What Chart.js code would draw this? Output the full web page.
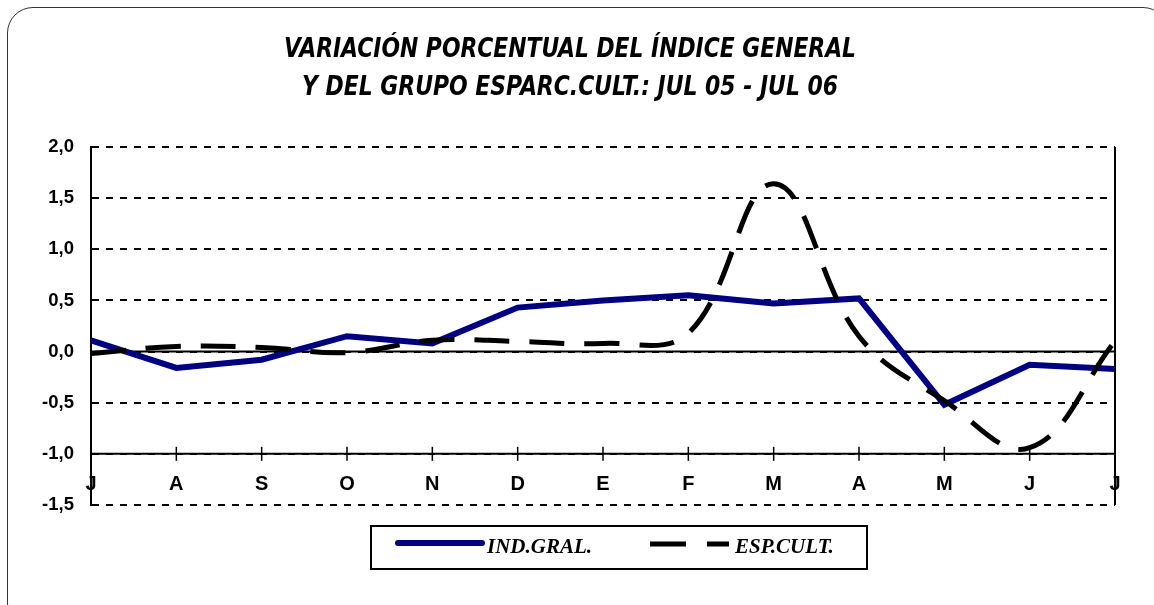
<!DOCTYPE html>
<html>
<head>
<meta charset="utf-8">
<script src="https://cdn.jsdelivr.net/npm/chart.js@4/dist/chart.umd.min.js"></script>
<style>
  html, body { margin: 0; padding: 0; background: #fff; }
  #wrap { position: relative; width: 1154px; height: 605px; overflow: hidden; }
  #frame {
    position: absolute; left: 7px; top: 7px; width: 1160px; height: 620px;
    border: 1.5px solid #333; border-radius: 26px; pointer-events: none;
  }
  canvas { position: absolute; left: 0; top: 0; }
</style>
</head>
<body>
<div id="wrap">
  <canvas id="chart" width="1154" height="605"></canvas>
  <div id="frame"></div>
</div>
<script>
// months Jul 05 - Jul 06
var months = ['J', 'A', 'S', 'O', 'N', 'D', 'E', 'F', 'M', 'A', 'M', 'J', 'J'];
var indGral = [0.11, -0.16, -0.08, 0.15, 0.08, 0.43, 0.50, 0.55, 0.47, 0.52, -0.52, -0.13, -0.17];
var espCult = [-0.02, 0.05, 0.04, -0.01, 0.11, 0.10, 0.08, 0.18, 1.64, 0.15, -0.48, -0.94, 0.10];
var titleLines = ['VARIACIÓN PORCENTUAL DEL ÍNDICE GENERAL', 'Y DEL GRUPO ESPARC.CULT.: JUL 05 - JUL 06'];

var sansNarrow = "'Liberation Sans Narrow', 'DejaVu Sans Condensed', 'Liberation Sans', Arial, sans-serif";

// title drawn by hand so it can be condensed
var titlePlugin = {
  id: 'twoLineTitle',
  afterDraw: function (chart) {
    var ctx = chart.ctx;
    var ys = [50, 88];
    var widths = [572, 536];
    ctx.save();
    ctx.fillStyle = '#000';
    ctx.textAlign = 'center';
    ctx.textBaseline = 'middle';
    ctx.font = 'italic bold 26px ' + sansNarrow;
    titleLines.forEach(function (t, i) {
      var w = ctx.measureText(t).width;
      ctx.save();
      ctx.translate(570, ys[i]);
      ctx.scale(widths[i] / w, 1);
      ctx.fillText(t, 0, 0);
      ctx.restore();
    });
    ctx.restore();
  }
};

// frame bits: right edge, zero line, ticks across category axis
var framePlugin = {
  id: 'frameBits',
  beforeDatasetsDraw: function (chart) {
    var ctx = chart.ctx, a = chart.chartArea;
    var y = chart.scales.y, x = chart.scales.x;
    ctx.save();
    ctx.strokeStyle = '#000';
    ctx.lineWidth = 2;
    ctx.beginPath();
    ctx.moveTo(a.left, y.getPixelForValue(0));
    ctx.lineTo(a.right, y.getPixelForValue(0));
    ctx.stroke();
    ctx.beginPath();
    ctx.moveTo(a.right, a.top);
    ctx.lineTo(a.right, a.bottom);
    ctx.stroke();
    var yAxis = y.getPixelForValue(-1);
    ctx.beginPath();
    ctx.moveTo(a.left, yAxis);
    ctx.lineTo(a.right, yAxis);
    ctx.stroke();
    ctx.lineWidth = 1.5;
    for (var i = 0; i < months.length; i++) {
      var px = x.getPixelForValue(i);
      ctx.beginPath();
      ctx.moveTo(px, yAxis - 7);
      ctx.lineTo(px, yAxis + 7);
      ctx.stroke();
    }
    ctx.restore();
  }
};

// boxed legend under the plot
var legendPlugin = {
  id: 'boxLegend',
  afterDraw: function (chart) {
    var ctx = chart.ctx;
    var ds = chart.data.datasets;
    ctx.save();
    ctx.strokeStyle = '#000';
    ctx.lineWidth = 2;
    ctx.strokeRect(371, 526, 496, 43);

    ctx.font = 'italic bold 21px "Liberation Serif", "Times New Roman", serif';
    ctx.fillStyle = '#000';
    ctx.textBaseline = 'alphabetic';
    ctx.textAlign = 'left';

    ctx.strokeStyle = ds[0].borderColor;
    ctx.lineWidth = 6;
    ctx.lineCap = 'round';
    ctx.beginPath();
    ctx.moveTo(398, 543);
    ctx.lineTo(482, 543);
    ctx.stroke();
    ctx.fillText(ds[0].label, 487, 553);

    ctx.strokeStyle = ds[1].borderColor;
    ctx.lineWidth = 5;
    ctx.lineCap = 'butt';
    ctx.setLineDash([36, 21]);
    ctx.beginPath();
    ctx.moveTo(650, 544);
    ctx.lineTo(729, 544);
    ctx.stroke();
    ctx.setLineDash([]);
    ctx.fillText(ds[1].label, 735, 553);
    ctx.restore();
  }
};

var ctx = document.getElementById('chart');

var myChart = new Chart(ctx, {
  type: 'line',
  data: {
    labels: months,
    datasets: [
      {
        label: 'IND.GRAL.',
        data: indGral,
        borderColor: '#000080',
        borderWidth: 6,
        tension: 0,
        pointRadius: 0,
        fill: false,
        order: 1
      },
      {
        label: 'ESP.CULT.',
        data: espCult,
        borderColor: '#000',
        borderWidth: 5,
        borderDash: [35, 20],
        tension: 0.4,
        pointRadius: 0,
        fill: false,
        order: 0
      }
    ]
  },
  options: {
    responsive: false,
    animation: false,
    layout: { padding: { top: 147, left: 0, right: 39, bottom: 100 } },
    plugins: {
      legend: { display: false },
      title: { display: false },
      tooltip: { enabled: false }
    },
    scales: {
      x: {
        position: { y: -1 },
        afterFit: function (scale) { scale.height = 0; },
        grid: { display: false, drawOnChartArea: false, drawTicks: false },
        border: { display: false },
        ticks: {
          autoSkip: false,
          maxRotation: 0,
          padding: 19,
          color: '#000',
          font: { family: "'Liberation Sans', Arial, sans-serif", size: 20, weight: 'bold' }
        }
      },
      y: {
        min: -1.5,
        max: 2,
        afterFit: function (scale) { scale.width = 91; },
        grid: {
          color: '#000',
          lineWidth: 2,
          drawTicks: false
        },
        border: {
          display: true,
          color: '#000',
          width: 2,
          dash: [7, 7]
        },
        ticks: {
          stepSize: 0.5,
          padding: 17,
          color: '#000',
          font: { family: "'Liberation Sans', Arial, sans-serif", size: 18.5, weight: 'bold' },
          callback: function (v) { return v.toFixed(1).replace('.', ','); }
        }
      }
    }
  },
  plugins: [titlePlugin, framePlugin, legendPlugin]
});
</script>
</body>
</html>
